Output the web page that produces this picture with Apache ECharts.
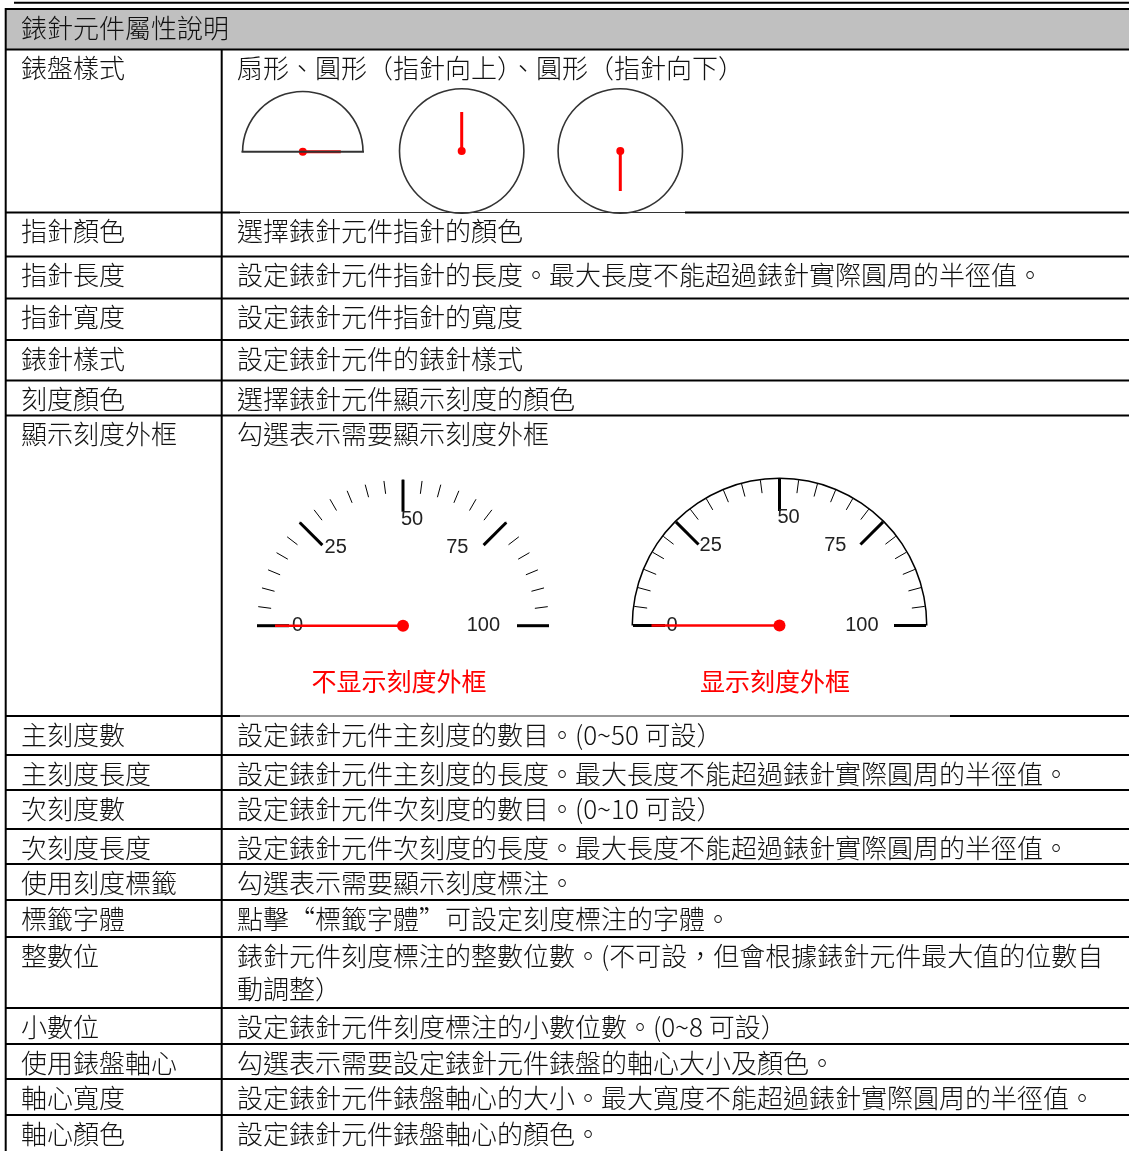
<!DOCTYPE html>
<html><head><meta charset="utf-8">
<script src="https://cdn.jsdelivr.net/npm/echarts@6/dist/echarts.min.js"></script>
<style>html,body{margin:0;padding:0;background:#fff}#c{width:1129px;height:1151px}</style>
</head><body><div id="c"></div>
<script>
// ---------- data ----------
const headerTitle = '錶針元件屬性說明';
const propNames = ['錶盤樣式','指針顏色','指針長度','指針寬度','錶針樣式','刻度顏色','顯示刻度外框',
  '主刻度數','主刻度長度','次刻度數','次刻度長度','使用刻度標籤','標籤字體','整數位','小數位',
  '使用錶盤軸心','軸心寬度','軸心顏色'];
const propDescs = [
  ['扇形、圓形（指針向上）、圓形（指針向下）'],
  ['選擇錶針元件指針的顏色'],
  ['設定錶針元件指針的長度。最大長度不能超過錶針實際圓周的半徑值。'],
  ['設定錶針元件指針的寬度'],
  ['設定錶針元件的錶針樣式'],
  ['選擇錶針元件顯示刻度的顏色'],
  ['勾選表示需要顯示刻度外框'],
  ['設定錶針元件主刻度的數目。(0~50 可設）'],
  ['設定錶針元件主刻度的長度。最大長度不能超過錶針實際圓周的半徑值。'],
  ['設定錶針元件次刻度的數目。(0~10 可設）'],
  ['設定錶針元件次刻度的長度。最大長度不能超過錶針實際圓周的半徑值。'],
  ['勾選表示需要顯示刻度標注。'],
  ['點擊“標籤字體”可設定刻度標注的字體。'],
  ['錶針元件刻度標注的整數位數。(不可設，但會根據錶針元件最大值的位數自','動調整）'],
  ['設定錶針元件刻度標注的小數位數。(0~8 可設）'],
  ['勾選表示需要設定錶針元件錶盤的軸心大小及顏色。'],
  ['設定錶針元件錶盤軸心的大小。最大寬度不能超過錶針實際圓周的半徑值。'],
  ['設定錶針元件錶盤軸心的顏色。']
];
const captionTexts = ['不显示刻度外框', '显示刻度外框'];
const dialPointerValues = [100, 0, 0];     // sector, circle (up), circle (down)
const scaleMin = 0, scaleMax = 100;
const scaleMajorSplits = 4, scaleMinorSplits = 6;
const scalePointerValues = [0, 0];          // without frame, with frame

// ---------- layout ----------
const W = 1129, H = 1151;
const rowLineY = [49.5, 212.5, 256.5, 298.5, 340, 380.5, 415.5, 716, 755, 790, 829, 864, 900, 937, 1008, 1044, 1079, 1115];
const textFont = '300 26px "Noto Sans CJK TC", "Noto Sans CJK SC", sans-serif';
const elements = [];
function hline(x1, x2, y, t, c) {
  elements.push({type:'rect', silent:true, z:10, shape:{x:x1, y:y - t/2, width:x2 - x1, height:t}, style:{fill:c || '#000'}});
}
function vline(x, y1, y2, t) {
  elements.push({type:'rect', silent:true, z:10, shape:{x:x - t/2, y:y1, width:t, height:y2 - y1}, style:{fill:'#000'}});
}
function txt(s, x, y, font, color, align) {
  elements.push({type:'text', silent:true, z:11, style:{text:s, x:x, y:y, font:font, fill:color || '#111',
    align: align || 'left', textAlign: align || 'left', verticalAlign:'middle', textVerticalAlign:'middle'}});
}
// header
elements.push({type:'rect', silent:true, z:5, shape:{x:6, y:9, width:W - 6, height:40}, style:{fill:'#c0c0c0'}});
hline(14, W, 2.8, 2);
hline(5, W, 9, 2);
txt(headerTitle, 21, 28, textFont);
// row lines
rowLineY.forEach((y, i) => {
  if (i === 1) { hline(5, 240, y, 2); hline(240, 685, y, 1, '#333'); hline(685, W, y, 2); }
  else if (i === 7) { hline(5, 240, y, 2); hline(240, 950, y, 1, '#333'); hline(950, W, y, 2); }
  else hline(5, W, y, 2);
});
vline(5.7, 8, H, 2);
vline(221.7, rowLineY[0], H, 2);
// texts
propNames.forEach((n, i) => {
  const y0 = rowLineY[i] + 19;
  txt(n, 21, y0, textFont);
  propDescs[i].forEach((line, k) => txt(line, 237, y0 + k * 33, textFont));
});
// sector baseline + captions
hline(241.5, 364, 151.7, 2, '#333');
txt(captionTexts[0], 399, 681, '25px "Noto Sans CJK SC", sans-serif', '#ff0000', 'center');
txt(captionTexts[1], 775, 681, '25px "Noto Sans CJK SC", sans-serif', '#ff0000', 'center');

// ---------- gauges ----------
function smallDial(center, radius, start, end, value, plen) {
  return {
    type:'gauge', center:center, radius:radius, startAngle:start, endAngle:end, min:0, max:100,
    axisLine:{show:true, lineStyle:{width:1.6, color:[[1, '#333']]}},
    axisTick:{show:false}, splitLine:{show:false}, axisLabel:{show:false},
    pointer:{show:true, icon:'rect', length:plen, width:3, itemStyle:{color:'#ff0000'}},
    anchor:{show:true, showAbove:true, size:8, itemStyle:{color:'#ff0000', borderWidth:0}},
    title:{show:false}, detail:{show:false},
    data:[{value:value}]
  };
}
const labelFont = {fontSize:20, color:'#222', fontFamily:'"Liberation Sans", Arial, sans-serif'};
const labelRich = {
  t0: Object.assign({}, labelFont),
  t25: Object.assign({}, labelFont),
  t50: Object.assign({padding:[0, 0, 0, 18], lineHeight:10}, labelFont),
  t75: Object.assign({padding:[0, 13, 0, 0]}, labelFont),
  t100: Object.assign({padding:[0, 14, 0, 0]}, labelFont)
};
function scaleDial(center, radius, framed, value) {
  return {
    type:'gauge', center:center, radius:radius, startAngle:180, endAngle:0,
    min:scaleMin, max:scaleMax, splitNumber:scaleMajorSplits,
    axisLine:{show:framed, lineStyle:{width:framed ? 1.5 : 0, color:[[1, '#000']]}},
    splitLine:{show:true, length:32, distance:0, lineStyle:{width:3, color:'#000'}},
    axisTick:{show:true, splitNumber:scaleMinorSplits, length:13, distance:0, lineStyle:{width:1, color:'#000'}},
    axisLabel:Object.assign({show:true, distance:3, rich:labelRich,
      formatter: v => '{t' + v + '|' + v + '}'}, labelFont),
    pointer:{show:true, icon:'rect', length:128, width:2.6, itemStyle:{color:'#ff0000'}},
    anchor:{show:true, showAbove:true, size:12, itemStyle:{color:'#ff0000', borderWidth:0}},
    title:{show:false}, detail:{show:false},
    data:[{value:value}]
  };
}
const chart = echarts.init(document.getElementById('c'), null, {renderer:'canvas'});
chart.setOption({
  animation:false,
  backgroundColor:'#fff',
  graphic:{elements:elements},
  series:[
    smallDial([302.8, 151.7], 61, 180, 0, dialPointerValues[0], 38),
    smallDial([461.7, 151], 63, 90, -270, dialPointerValues[1], 39),
    smallDial([620.3, 151], 63, -90, -450, dialPointerValues[2], 40),
    scaleDial([403, 625.7], 146, false, scalePointerValues[0]),
    scaleDial([779.5, 625.5], 148, true, scalePointerValues[1])
  ]
});
</script></body></html>
